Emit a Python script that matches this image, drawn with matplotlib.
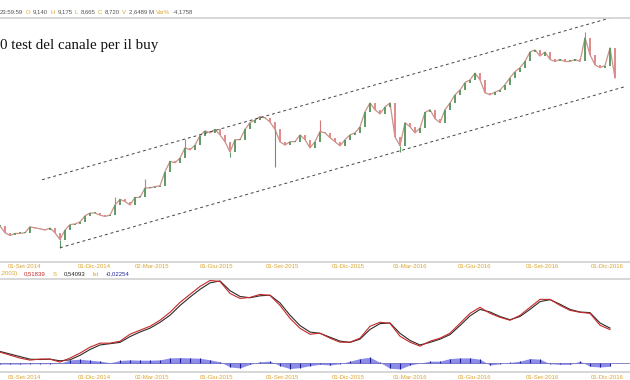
import numpy as np
import matplotlib
matplotlib.use("Agg")
import matplotlib.pyplot as plt
from matplotlib.lines import Line2D
from matplotlib.transforms import blended_transform_factory

# weekly closes
closes = [6.54, 6.44, 6.40, 6.43, 6.43, 6.44, 6.53, 6.51, 6.50, 6.48,
          6.51, 6.44, 6.34, 6.48, 6.56, 6.57, 6.60, 6.69, 6.73, 6.73,
          6.70, 6.68, 6.70, 6.85, 6.93, 6.90, 6.85, 6.96, 6.96, 7.10,
          7.10, 7.12, 7.13, 7.34, 7.49, 7.47, 7.54, 7.69, 7.66, 7.73,
          7.87, 7.94, 7.91, 7.96, 7.88, 7.78, 7.63, 7.81, 7.81, 7.96,
          8.06, 8.10, 8.15, 8.13, 8.07, 7.96, 7.78, 7.73, 7.78, 7.78,
          7.88, 7.81, 7.69, 7.78, 7.93, 7.91, 7.84, 7.78, 7.72, 7.81,
          7.88, 7.91, 8.00, 8.22, 8.35, 8.25, 8.19, 8.29, 8.35, 7.85,
          7.72, 8.06, 8.00, 7.91, 7.98, 8.21, 8.25, 8.12, 8.06, 8.25,
          8.35, 8.47, 8.54, 8.65, 8.69, 8.79, 8.69, 8.50, 8.47, 8.51,
          8.54, 8.62, 8.72, 8.81, 8.87, 8.96, 9.10, 9.13, 9.04, 9.10,
          8.99, 8.96, 8.99, 8.96, 8.96, 8.99, 8.96, 9.31, 9.06, 8.91,
          8.87, 8.90, 9.16, 8.72]

# long shadows visible on the chart
wick_idx = [12, 23, 29, 37, 46, 55, 64, 80, 117]
wick_px = [6.22, 6.97, 7.23, 7.82, 7.56, 7.41, 8.10, 7.63, 9.40]

# channel (index, price)
upper_ch = [(8.4, 7.22), (122.0, 9.60)]
lower_ch = [(12.0, 6.22), (125.0, 8.59)]

# MACD panel, one value every 2 weeks
macd = [0.169, 0.123, 0.077, 0.046, 0.062, 0.062, 0.015, 0.077, 0.154, 0.246,
        0.308, 0.308, 0.338, 0.446, 0.508, 0.569, 0.662, 0.785, 0.938, 1.062,
        1.185, 1.277, 1.262, 1.077, 1.000, 1.015, 1.062, 1.046, 0.892, 0.692,
        0.538, 0.446, 0.462, 0.385, 0.323, 0.323, 0.385, 0.569, 0.631, 0.615,
        0.415, 0.323, 0.262, 0.338, 0.385, 0.462, 0.615, 0.769, 0.862, 0.769,
        0.708, 0.662, 0.738, 0.862, 0.985, 0.985, 0.892, 0.815, 0.785, 0.769,
        0.585, 0.518]
signal = [0.18, 0.14, 0.10, 0.06, 0.055, 0.06, 0.035, 0.05, 0.12, 0.21,
          0.28, 0.30, 0.32, 0.41, 0.48, 0.54, 0.63, 0.74, 0.89, 1.02,
          1.14, 1.24, 1.27, 1.12, 1.03, 1.01, 1.04, 1.05, 0.93, 0.74,
          0.58, 0.48, 0.46, 0.40, 0.34, 0.32, 0.37, 0.52, 0.61, 0.62,
          0.46, 0.35, 0.28, 0.32, 0.37, 0.44, 0.58, 0.73, 0.83, 0.79,
          0.72, 0.67, 0.72, 0.83, 0.95, 0.98, 0.91, 0.83, 0.79, 0.78,
          0.62, 0.541]
hist = [-0.015, -0.015, -0.015, -0.01, -0.01, -0.01, -0.005, 0.05, 0.06, 0.045,
        0.03, 0.005, 0.04, 0.05, 0.045, 0.045, 0.05, 0.08, 0.085, 0.08,
        0.075, 0.05, 0.02, -0.06, -0.075, -0.02, 0.02, 0.03, -0.04, -0.085,
        -0.07, -0.04, -0.02, -0.03, -0.01, 0.03, 0.07, 0.09, 0.01, -0.08,
        -0.09, -0.03, 0.0, 0.03, 0.03, 0.07, 0.08, 0.08, 0.06, -0.03,
        -0.01, 0.01, 0.03, 0.07, 0.06, -0.01, -0.02, -0.02, 0.03, -0.05,
        -0.06, -0.05]

tick_pos = [4.8, 18.8, 30.4, 43.2, 56.4, 69.6, 82.0, 95.0, 108.4, 121.4]
tick_lab = ["01-Set-2014", "01-Dic-2014", "02-Mar-2015", "01-Giu-2015", "01-Set-2015",
            "01-Dic-2015", "01-Mar-2016", "01-Giu-2016", "01-Set-2016", "01-Dic-2016"]

W, H = 630, 380
fig = plt.figure(figsize=(6.3, 3.8), dpi=100)
plt.rcParams['font.family'] = ['Liberation Sans', 'DejaVu Sans']

def fy(py):
    return 1 - py / H

XL = (0, 126)
gold = '#d9a531'
grid_c = '#d4d4d4'

# ---- price panel
ax = fig.add_axes([0, fy(262), 1, fy(18) - fy(262)])
ax.set_xlim(*XL)
ax.set_ylim(6.01, 9.60)
ax.axis('off')

x = np.arange(len(closes))
opens = [closes[0]] + closes[:-1]
ax.plot(x, closes, color='#c9928a', lw=0.9, zorder=1)
for i in range(len(closes)):
    o, c = opens[i], closes[i]
    col = '#5f9a62' if c >= o else '#e08a8c'
    lo, hi = min(o, c), max(o, c)
    if hi - lo < 0.015:
        hi = lo + 0.015
    ax.vlines(i, lo, hi, color=col, lw=1.4, zorder=2)
for i, p in zip(wick_idx, wick_px):
    c = closes[i]
    ax.vlines(i, min(c, p), max(c, p), color='#5f9a62' if p < c else '#d07a7a', lw=0.8)

for ch in (upper_ch, lower_ch):
    ax.plot([ch[0][0], ch[1][0]], [ch[0][1], ch[1][1]], color='#444444', lw=0.7,
            dashes=(3, 3))

# ---- MACD panel
axm = fig.add_axes([0, fy(372), 1, fy(279) - fy(372)])
axm.set_xlim(*XL)
axm.set_ylim(-0.138, 1.30)
axm.axis('off')
xm = np.arange(len(macd)) * 2
axm.fill_between(xm, 0, hist, color='#8d8de8', lw=0)
axm.vlines(xm, 0, hist, color='#1e1e96', lw=0.8)
axm.axhline(0, color='#5a5ab8', lw=0.5)
axm.plot(xm, signal, color='#2b2b2b', lw=0.8)
axm.plot(xm, macd, color='#c62828', lw=0.8)

# ---- separators
for py in (17.5, 262, 279, 372):
    fig.add_artist(Line2D([0, 1], [fy(py), fy(py)], transform=fig.transFigure,
                          color=grid_c, lw=1.3))

# ---- date labels
for a, py in ((ax, 267), (axm, 377.5)):
    tr = blended_transform_factory(a.transData, fig.transFigure)
    for p, lab in zip(tick_pos, tick_lab):
        a.text(p, fy(py), lab, transform=tr, ha='center', va='center',
               fontsize=4.3, color=gold, clip_on=False)

# ---- header rows, pieces laid out one after another
rend = fig.canvas.get_renderer()

def row(pieces, py, gap=2.5):
    px = 0.0
    for s, col in pieces:
        t = fig.text(px / W, fy(py), s, fontsize=4.3, color=col, va='center', ha='left')
        px += t.get_window_extent(rend).width + gap

dark = '#555555'
row([("23:59:59", dark), ("O", gold), ("9,140", dark), ("H", gold), ("9,175", dark),
     ("L", gold), ("8,665", dark), ("C", gold), ("8,720", dark), ("V", gold),
     ("2,6489 M", dark), ("Var%", gold), ("-4,1758", dark)], 12)
row([(",2003)", gold), ("0,51839", '#c62828'), ("S", gold), ("0,54093", '#222222'),
     ("Ist", gold), ("-0,02254", '#2323a0')], 274, gap=7)

fig.text(0.5 / W, fy(46), "0 test del canale per il buy", fontsize=10.8,
         family='Liberation Serif', color='#111111', va='center', ha='left')

fig.savefig("out.png", dpi=100)
